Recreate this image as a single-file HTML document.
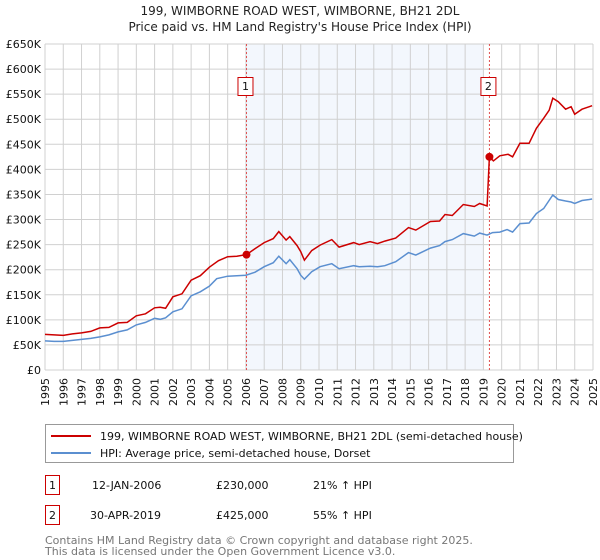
<!DOCTYPE html>
<html><head><meta charset="utf-8"><style>
body{margin:0;background:#fff;font-family:"DejaVu Sans","Liberation Sans",sans-serif;}
svg{display:block}
</style></head><body>
<svg id="chart" width="600" height="560" viewBox="0 0 600 560" xmlns="http://www.w3.org/2000/svg" font-family="DejaVu Sans, Liberation Sans, sans-serif">
<text x="300" y="15" text-anchor="middle" font-size="12" fill="#222">199, WIMBORNE ROAD WEST, WIMBORNE, BH21 2DL</text>
<text x="300" y="31" text-anchor="middle" font-size="12" fill="#222">Price paid vs. HM Land Registry's House Price Index (HPI)</text>
<g id="grid"></g><g id="axes"></g><g id="series"></g>
<g>
<rect x="45.5" y="424.5" width="468" height="38" fill="#fff" stroke="#999"/>
<line x1="51" y1="436" x2="91" y2="436" stroke="#cc0000" stroke-width="2"/>
<text x="100" y="440" font-size="11" fill="#111">199, WIMBORNE ROAD WEST, WIMBORNE, BH21 2DL (semi-detached house)</text>
<line x1="51" y1="453" x2="91" y2="453" stroke="#5b8fd0" stroke-width="2"/>
<text x="100" y="457" font-size="11" fill="#111">HPI: Average price, semi-detached house, Dorset</text>
</g>
<g font-size="11" fill="#111">
<rect x="45.5" y="475.5" width="14" height="19" fill="#fff" stroke="#cc0000"/>
<text x="52.5" y="489" text-anchor="middle">1</text>
<text x="92" y="489">12-JAN-2006</text><text x="216" y="489">£230,000</text><text x="313" y="489">21% ↑ HPI</text>
<rect x="45.5" y="505.5" width="14" height="19" fill="#fff" stroke="#cc0000"/>
<text x="52.5" y="519" text-anchor="middle">2</text>
<text x="90" y="519">30-APR-2019</text><text x="216" y="519">£425,000</text><text x="313" y="519">55% ↑ HPI</text>
</g>
<text x="45" y="544" font-size="11" fill="#777">Contains HM Land Registry data © Crown copyright and database right 2025.</text>
<text x="45" y="555" font-size="11" fill="#777">This data is licensed under the Open Government Licence v3.0.</text>
</svg>
<script>
const yTicks=[0,50,100,150,200,250,300,350,400,450,500,550,600,650];
const yTickLabels=["£0","£50K","£100K","£150K","£200K","£250K","£300K","£350K","£400K","£450K","£500K","£550K","£600K","£650K"];
const years=[1995,1996,1997,1998,1999,2000,2001,2002,2003,2004,2005,2006,2007,2008,2009,2010,2011,2012,2013,2014,2015,2016,2017,2018,2019,2020,2021,2022,2023,2024,2025];
const redDates=[1995,1995.5,1996,1996.5,1997,1997.5,1998,1998.5,1999,1999.5,2000,2000.5,2001,2001.3,2001.6,2002,2002.5,2003,2003.5,2004,2004.5,2005,2005.5,2006.03,2006.5,2007,2007.5,2007.8,2008.2,2008.4,2008.8,2009,2009.2,2009.6,2010.06,2010.7,2011.1,2011.9,2012.2,2012.8,2013.2,2013.6,2014.2,2014.9,2015.3,2016.1,2016.6,2016.9,2017.3,2017.9,2018.5,2018.8,2019.2,2019.33,2019.55,2019.9,2020.35,2020.6,2021,2021.5,2021.9,2022.3,2022.6,2022.8,2023.1,2023.5,2023.8,2024.0,2024.4,2024.8,2024.95];
const redValues=[71,70,69,72,74,77,84,85,94,95,108,112,124,125,123,146,152,179,188,205,218,226,227,230,242,254,262,276,259,266,248,236,219,238,249,260,245,254,250,256,252,257,263,284,279,296,297,310,308,330,326,332,327,425,417,427,430,425,452,452,482,502,518,542,535,520,525,510,520,525,527];
const hpiDates=[1995,1995.5,1996,1996.5,1997,1997.5,1998,1998.5,1999,1999.5,2000,2000.5,2001,2001.3,2001.6,2002,2002.5,2003,2003.5,2004,2004.4,2005,2005.5,2006,2006.5,2007,2007.5,2007.8,2008.2,2008.4,2008.8,2009,2009.2,2009.6,2010.06,2010.7,2011.1,2011.9,2012.2,2012.8,2013.2,2013.6,2014.2,2014.9,2015.3,2016.1,2016.6,2016.9,2017.3,2017.9,2018.5,2018.8,2019.2,2019.5,2019.9,2020.3,2020.6,2021,2021.5,2021.9,2022.3,2022.8,2023.1,2023.5,2023.8,2024.0,2024.4,2024.8,2024.95];
const hpiValues=[58,57,57,59,61,63,66,70,76,80,90,95,103,101,104,116,122,148,156,167,182,187,188,189,195,206,214,227,212,220,202,189,181,196,206,212,202,208,206,207,206,208,216,234,229,243,248,256,260,272,267,273,269,274,275,280,275,292,293,312,322,349,340,337,335,332,338,340,341];
const sales=[{d:2006.03,v:230,label:"1"},{d:2019.33,v:425,label:"2"}];
const L=45,R=593,T=44,B=370,y0=1995,y1=2025,vmax=650;
const xs=d=>L+(d-y0)/(y1-y0)*(R-L);
const ys=v=>B-v/vmax*(B-T);
const NS="http://www.w3.org/2000/svg";
function mk(tag,attrs,parent){const e=document.createElementNS(NS,tag);for(const k in attrs)e.setAttribute(k,attrs[k]);parent.appendChild(e);return e;}
const grid=document.getElementById('grid'),axes=document.getElementById('axes'),ser=document.getElementById('series');
const shade=mk('rect',{x:xs(2006),y:T,width:xs(2019)-xs(2006),height:B-T,fill:'#eef3fc',opacity:0.7},grid);


years.forEach(y=>{const l=mk('line',{x1:xs(y),x2:xs(y),y1:T,y2:B,stroke:'#d0d0d0'},grid);


const t=mk('text',{x:0,y:0,'font-size':11,fill:'#111','text-anchor':'end',transform:`translate(${xs(y)+4},${B+8}) rotate(-90)`},axes);
t.textContent=y;

});
yTicks.forEach((v,i)=>{const l=mk('line',{x1:L,x2:R,y1:ys(v),y2:ys(v),stroke:'#d0d0d0'},grid);


const t=mk('text',{x:L-4,y:ys(v)+4,'font-size':11,fill:'#111','text-anchor':'end'},axes);
t.textContent=yTickLabels[i];

});
function path(ds,vs){return ds.map((d,i)=>(i?'L':'M')+xs(d).toFixed(1)+','+ys(vs[i]).toFixed(1)).join('');}
sales.forEach(s=>{const l=mk('line',{x1:xs(s.d),x2:xs(s.d),y1:T,y2:B,stroke:'#e05050','stroke-dasharray':'2,2'},ser);


const r=mk('rect',{x:xs(s.d)-8.5,y:77.5,width:15,height:18,fill:'#fff',stroke:'#cc0000'},ser);


const t=mk('text',{x:xs(s.d)-1,y:90,'font-size':11,fill:'#111','text-anchor':'middle'},ser);
t.textContent=s.label;

});
const hp=mk('path',{d:path(hpiDates,hpiValues),fill:'none',stroke:'#5b8fd0','stroke-width':1.5},ser);


const rp=mk('path',{d:path(redDates,redValues),fill:'none',stroke:'#cc0000','stroke-width':1.5},ser);


sales.forEach(s=>{const c=mk('circle',{cx:xs(s.d),cy:ys(s.v),r:4,fill:'#cc0000'},ser);

});
</script>
</body></html>
